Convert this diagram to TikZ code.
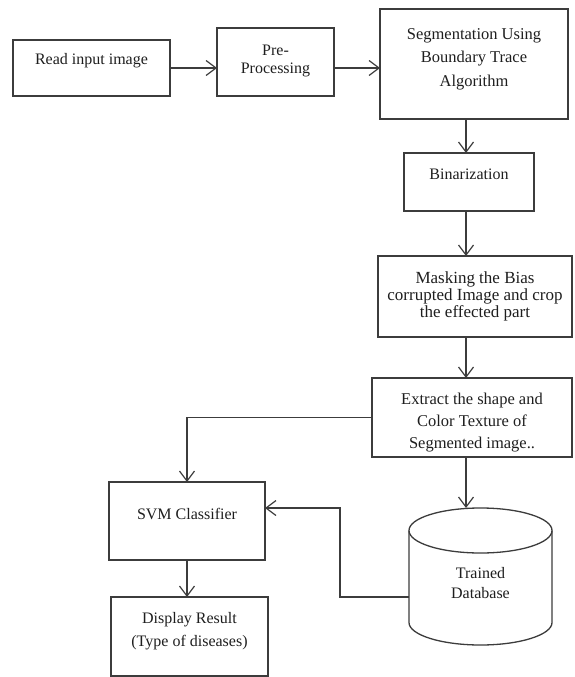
\documentclass[tikz,border=0pt]{standalone}
\usepackage{fontspec}
\setmainfont{Liberation Serif}
\usetikzlibrary{arrows.meta}
\definecolor{ln}{HTML}{3C3C3C}
\definecolor{tx}{HTML}{1E1E1E}
\begin{document}
\begin{tikzpicture}[x=1pt,y=-1pt,
  box/.style={draw=ln, line width=1.3pt, rectangle, inner sep=2pt, outer sep=0pt,
    align=center, text=tx, font=\fontsize{16pt}{22pt}\selectfont},
  arr/.style={draw=ln, line width=1.2pt, -{Straight Barb[length=10pt,width=15pt,line width=1.2pt]}},
  dbline/.style={draw=ln, line width=1.3pt},
]
\useasboundingbox (0,0) rectangle (574,677);

\node[box, minimum width=157pt, minimum height=56pt, text height=0pt, text depth=6pt] (read) at (91.5,68) {Read input image};
\node[box, minimum width=117pt, minimum height=68pt, text height=24pt, text depth=0pt,
  font=\fontsize{16pt}{18pt}\selectfont] (pre) at (275.5,62) {Pre-\\Processing};
\node[box, minimum width=188pt, minimum height=110pt, text height=44pt, text depth=0pt,
  font=\fontsize{16.5pt}{23.5pt}\selectfont] (seg) at (474,64) {Segmentation Using\\Boundary Trace\\Algorithm};
\node[box, minimum width=130pt, minimum height=58pt, text height=0pt, text depth=6pt] (bin) at (469,182) {Binarization};
\node[box, minimum width=194pt, minimum height=81pt, text height=41pt, text depth=0pt,
  font=\fontsize{17pt}{17pt}\selectfont] (mask) at (475,296.5) {Masking the Bias\\corrupted Image and crop\\the effected part};
\node[box, minimum width=200pt, minimum height=79pt, text height=61pt, text depth=0pt,
  font=\fontsize{16.5pt}{22pt}\selectfont] (ext) at (472,417.5) {Extract the shape and\\Color Texture of\\Segmented image..};
\node[box, minimum width=156pt, minimum height=78pt, text height=0pt, text depth=4pt] (svm) at (187,521) {SVM Classifier};
\node[box, minimum width=157pt, minimum height=79pt, text height=19pt, text depth=0pt,
  font=\fontsize{16pt}{23pt}\selectfont] (disp) at (189.5,636.5) {Display Result\\(Type of diseases)};

% database cylinder: node carries the text and anchors, outline drawn from its corners
\node[rectangle, minimum width=143pt, minimum height=137pt, inner sep=2pt, outer sep=0pt,
  align=center, text=tx, font=\fontsize{16pt}{20pt}\selectfont, text height=43pt, text depth=0pt]
  (db) at (480.5,576.5) {Trained\\Database};
\draw[dbline] ([yshift=-22.5pt]db.north) ellipse [x radius=71.5pt, y radius=22.5pt];
\draw[dbline] ([yshift=-22.5pt]db.north west) -- ([yshift=22.5pt]db.south west)
  .. controls ([yshift=22.5pt-12.4pt]db.south west) and ([xshift=-39.3pt]db.south) .. (db.south)
  .. controls ([xshift=39.3pt]db.south) and ([yshift=22.5pt-12.4pt]db.south east) .. ([yshift=22.5pt]db.south east)
  -- ([yshift=-22.5pt]db.north east);

\coordinate (colx) at (466,0);
\coordinate (kink) at (340,508);
\draw[arr] (read.east) -- (read.east -| pre.west);
\draw[arr] (pre.east |- read.east) -- (seg.west |- read.east);
\draw[arr] (seg.south -| colx) -- (bin.north -| colx);
\draw[arr] (bin.south -| colx) -- (mask.north -| colx);
\draw[arr] (mask.south -| colx) -- (ext.north -| colx);
\draw[arr] (ext.south -| colx) -- (db.north -| colx);
\draw[arr] (ext.west) -| (svm.north);
\draw[arr] ([yshift=-20.5pt]db.west) -| (kink) -- (svm.east |- kink);
\draw[arr] (svm.south) -- (svm.south |- disp.north);
\end{tikzpicture}
\end{document}
